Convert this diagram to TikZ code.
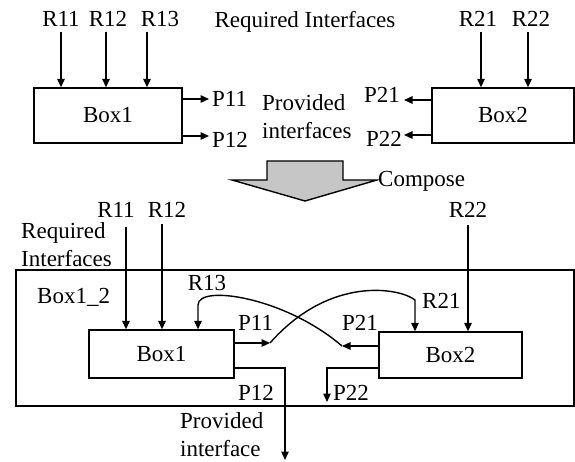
\documentclass[tikz,border=0pt]{standalone}
\usepackage{fontspec}
\setmainfont{Liberation Serif}
\usetikzlibrary{arrows.meta}

\tikzset{
  lbl/.style={inner sep=0pt, anchor=base},
  blk/.style={draw, line width=1.4pt, inner sep=0pt},
  wire/.style={line width=1.4pt},
}

\begin{document}
\begin{tikzpicture}[x=1pt, y=-1pt, >={Triangle[length=8.5pt,width=7.5pt]}, font=\fontsize{23}{28}\selectfont]
  \useasboundingbox (0,0) rectangle (575,462);

  % Componenti separati
  \node[blk, minimum width=148pt, minimum height=55pt] (box1) at (108,115.5) {Box1};
  \node[blk, minimum width=142pt, minimum height=55pt] (box2) at (503,115.5) {Box2};

  % Interfacce richieste in alto
  \node[lbl] (r11) at (61,27) {R11};
  \node[lbl] (r12) at (108,27) {R12};
  \node[lbl] (r13) at (160,27) {R13};
  \node[lbl] (r21) at (478,27) {R21};
  \node[lbl] (r22) at (531,27) {R22};
  \node[lbl] (reqtop) at (305,28) {Required Interfaces};
  \coordinate (r11a) at (61,32);
  \coordinate (r12a) at (106,32);
  \coordinate (r13a) at (147,32);
  \coordinate (r21a) at (481,32);
  \coordinate (r22a) at (528,32);
  \draw[wire,->] (r11a) -- (r11a |- box1.north);
  \draw[wire,->] (r12a) -- (r12a |- box1.north);
  \draw[wire,->] (r13a) -- (r13a |- box1.north);
  \draw[wire,->] (r21a) -- (r21a |- box2.north);
  \draw[wire,->] (r22a) -- (r22a |- box2.north);

  % Interfacce fornite in alto
  \node[lbl, anchor=base west] (p11) at (212,107) {P11};
  \node[lbl, anchor=base west] (p12) at (212,148) {P12};
  \node[lbl, anchor=base east] (p21) at (400,103) {P21};
  \node[lbl, anchor=base east] (p22) at (402,147) {P22};
  \node[lbl, anchor=north west, align=left] (provtop) at (262,94) {Provided\\interfaces};
  \coordinate (p11a) at (209,99);
  \coordinate (p12a) at (209,136);
  \coordinate (p21a) at (404,100);
  \coordinate (p22a) at (404,135);
  \draw[wire,->] (p11a -| box1.east) -- (p11a);
  \draw[wire,->] (p12a -| box1.east) -- (p12a);
  \draw[wire,->] (p21a -| box2.west) -- (p21a);
  \draw[wire,->] (p22a -| box2.west) -- (p22a);

  % Freccia di composizione
  \draw[line width=1.4pt, fill=gray!45] (267,161) -- (343,161) -- (343,180) -- (377,180)
    -- (305,201) -- (232,180) -- (267,180) -- cycle;
  \node[lbl, anchor=base west] (compose) at (378,187) {Compose};

  % Componente composto
  \node[blk, minimum width=558pt, minimum height=136pt] (comp) at (295,338) {};
  \node[lbl, anchor=base west] (compname) at (37,303) {Box1\_2};
  \node[blk, minimum width=145pt, minimum height=48pt] (cbox1) at (161.5,354) {Box1};
  \node[blk, minimum width=143pt, minimum height=46pt] (cbox2) at (450.5,355) {Box2};

  % Etichette del composto
  \node[lbl] (cr11l) at (116,218) {R11};
  \node[lbl] (cr12l) at (167,218) {R12};
  \node[lbl] (cr22l) at (468,218) {R22};
  \node[lbl] (cr13l) at (207,290) {R13};
  \node[lbl, anchor=base west] (cr21l) at (422,308) {R21};
  \node[lbl, anchor=base west] (cp11l) at (238,330) {P11};
  \node[lbl, anchor=base west] (cp21l) at (342,330) {P21};
  \node[lbl, anchor=base west] (cp12l) at (238,400) {P12};
  \node[lbl, anchor=base west] (cp22l) at (333,400) {P22};
  \node[lbl, anchor=north west, align=left] (reqbot) at (21,222) {Required\\Interfaces};
  \node[lbl, anchor=north west, align=left] (provbot) at (180,412) {Provided\\interface};

  % Interfacce richieste esterne
  \coordinate (cr11) at (126,227);
  \coordinate (cr12) at (162,224);
  \coordinate (cr22) at (468,225);
  \draw[wire,->] (cr11) -- (cr11 |- cbox1.north);
  \draw[wire,->] (cr12) -- (cr12 |- cbox1.north);
  \draw[wire,->] (cr22) -- (cr22 |- cbox2.north);

  % Collegamenti interni incrociati
  \coordinate (cp11) at (270,343);
  \coordinate (cp21) at (342,346);
  \coordinate (cr13) at (198,305);
  \coordinate (cr21) at (415,300);
  \draw[wire,->] (cp11 -| cbox1.east) -- (cp11);
  \draw[wire,->] (cp21 -| cbox2.west) -- (cp21);
  \draw[wire,->] (cp21) .. controls (285,297) and (198,284) .. (cr13) -- (cr13 |- cbox1.north);
  \draw[wire,->] (cp11) .. controls (330,275) and (400,288) .. (cr21) -- (cr21 |- cbox2.north);

  % Interfacce fornite verso l'esterno
  \coordinate (cp12) at (285,460);
  \coordinate (cp22) at (327,402);
  \draw[wire,->] ([yshift=-14pt]cbox1.east) -| (cp12);
  \draw[wire,->] ([yshift=-13pt]cbox2.west) -| (cp22);
\end{tikzpicture}
\end{document}
